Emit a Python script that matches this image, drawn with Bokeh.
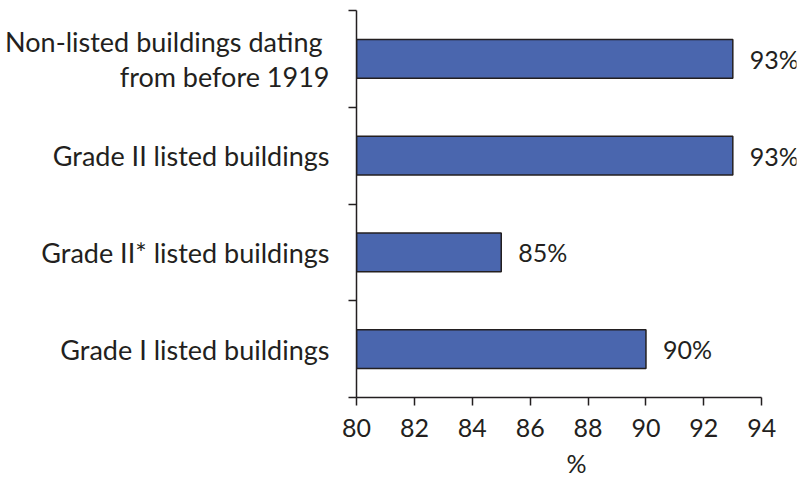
from bokeh.plotting import figure
from bokeh.models import Range1d, FixedTicker, ColumnDataSource
from bokeh.core.properties import value
from bokeh.embed import file_html
from bokeh.resources import INLINE

categories = ["Non-listed buildings dating \nfrom before 1919",
              "Grade II listed buildings",
              "Grade II* listed buildings",
              "Grade I listed buildings"]
values = [93, 93, 85, 90]
x_ticks = [80, 82, 84, 86, 88, 90, 92, 94]

FONT = "Lato"
TXT = "#231F20"
BAR = "#4A66AE"

pos = [i + 0.5 for i in range(len(categories))]
src = ColumnDataSource(dict(y=pos, v=values, lbl=[f"{v}%" for v in values]))

p = figure(width=798, height=480, output_backend="svg", toolbar_location=None,
           x_range=Range1d(80, 95.2), y_range=Range1d(len(categories), 0),
           min_border_left=356, min_border_right=2, min_border_top=10, min_border_bottom=83)
p.outline_line_color = None
p.grid.grid_line_color = None
p.background_fill_color = None

p.hbar(y="y", left=80, right="v", height=0.4, source=src,
       fill_color=BAR, line_color=TXT, line_width=1.5)
p.text(x="v", y="y", text="lbl", source=src, x_offset=17,
       text_font=value(FONT), text_font_size="25px", text_color=TXT,
       text_align="left", text_baseline="middle")

xa = p.xaxis[0]
xa.ticker = FixedTicker(ticks=x_ticks)
xa.bounds = (80, 94)
xa.axis_label = "%"
xa.axis_line_color = TXT
xa.axis_line_width = 1.5
xa.major_tick_line_color = TXT
xa.major_tick_line_width = 1.5
xa.major_tick_out = 8
xa.major_tick_in = 0
xa.minor_tick_line_color = None
xa.major_label_text_font = FONT
xa.major_label_text_font_size = "25px"
xa.major_label_text_color = TXT
xa.major_label_standoff = 13
xa.axis_label_text_font = FONT
xa.axis_label_text_font_size = "25px"
xa.axis_label_text_font_style = "normal"
xa.axis_label_text_color = TXT
xa.axis_label_standoff = 8

ya = p.yaxis[0]
ya.ticker = FixedTicker(ticks=pos, minor_ticks=list(range(len(categories) + 1)))
ya.major_label_overrides = {pv: c for pv, c in zip(pos, categories)}
ya.axis_line_color = TXT
ya.axis_line_width = 1.5
ya.major_tick_line_color = None
ya.minor_tick_line_color = TXT
ya.minor_tick_line_width = 1.5
ya.minor_tick_out = 8
ya.minor_tick_in = 0
ya.major_tick_out = 8
ya.major_tick_in = 0
ya.major_label_text_font = FONT
ya.major_label_text_font_size = "27px"
ya.major_label_text_color = TXT
ya.major_label_text_line_height = 1.08
ya.major_label_standoff = 19

open("out.html", "w").write(file_html(p, INLINE))
